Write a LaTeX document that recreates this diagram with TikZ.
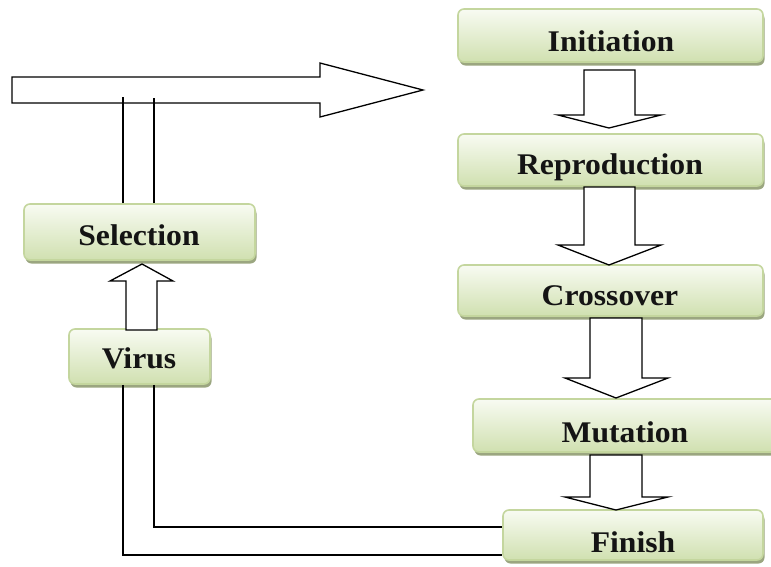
\documentclass[tikz,border=0pt]{standalone}
\usepackage{fontspec}
\setmainfont{Liberation Serif}[FakeStretch=1.055]
\usetikzlibrary{shadows,calc}
\definecolor{boxline}{RGB}{196,214,158}
\definecolor{boxtop}{RGB}{248,251,242}
\definecolor{boxbot}{RGB}{208,224,176}
\definecolor{boxshadow}{RGB}{155,166,128}
\tikzset{
  stagebox/.style={rectangle, rounded corners=6pt, draw=boxline, line width=1.6pt,
    top color=boxtop, bottom color=boxbot, inner sep=0pt,
    drop shadow={shadow xshift=1.5pt, shadow yshift=-3.5pt, fill=boxshadow, opacity=1}},
  stagetext/.style={anchor=base, inner sep=0pt, text=black!92, font=\fontsize{30}{30}\selectfont\bfseries},
  blockarrow/.style={draw=black, fill=white, line width=1.3pt, line join=miter},
  link/.style={draw=black, line width=1.3pt}
}
\begin{document}
\begin{tikzpicture}[x=1pt,y=-1pt]
\useasboundingbox (0,0) rectangle (771,566);
\clip (0,0) rectangle (771,566);
% boxes
\node[stagebox, minimum width=305pt, minimum height=53pt] (init) at (610.5,35.5) {};
\node[stagebox, minimum width=305pt, minimum height=52pt] (repro) at (610.5,160) {};
\node[stagebox, minimum width=305pt, minimum height=51pt] (cross) at (610.5,290.5) {};
\node[stagebox, minimum width=318pt, minimum height=53pt] (mut) at (632,425.5) {};
\node[stagebox, minimum width=260pt, minimum height=50pt] (fin) at (633,535) {};
\node[stagebox, minimum width=231pt, minimum height=56pt] (sel) at (139.5,232) {};
\node[stagebox, minimum width=141pt, minimum height=55pt] (vir) at (139.5,356.5) {};
% texts
\node[stagetext] (tinit) at (611,51.5) {Initiation};
\node[stagetext] (trepro) at (610,174) {Reproduction};
\node[stagetext] (tcross) at (610,305) {Crossover};
\node[stagetext] (tmut) at (625,442) {Mutation};
\node[stagetext] (tfin) at (633,552) {Finish};
\node[stagetext] (tsel) at (139,245) {Selection};
\node[stagetext] (tvir) at (139,368) {Virus};
% big arrow
\draw[blockarrow] (12,77) -- (320,77) -- (320,63) -- (423,90) -- (320,117) -- (320,103) -- (12,103) -- cycle;
% down block arrows
\draw[blockarrow] (584,70) -- (635,70) -- (635,115) -- (661,115) -- (609,128) -- (558,115) -- (584,115) -- cycle;
\draw[blockarrow] (584,187) -- (635,187) -- (635,245) -- (661,245) -- (609,265) -- (558,245) -- (584,245) -- cycle;
\draw[blockarrow] (590,318) -- (642,318) -- (642,378) -- (668,378) -- (616,398) -- (565,378) -- (590,378) -- cycle;
\draw[blockarrow] (590,455) -- (642,455) -- (642,497) -- (668,497) -- (616,510) -- (565,497) -- (590,497) -- cycle;
% up block arrow
\draw[blockarrow] (126,330) -- (157,330) -- (157,281) -- (173,281) -- (142,264) -- (110,281) -- (126,281) -- cycle;
% lines selection -> big arrow
\coordinate (ja) at (123,97);
\coordinate (jb) at (154,98);
\draw[link] ([xshift=-16.5pt]sel.north) -- (ja);
\draw[link] ([xshift=14.5pt]sel.north) -- (jb);
% lines virus -> finish
\draw[link] ([xshift=-16.5pt]vir.south) |- ([yshift=-20pt]fin.west);
\draw[link] ([xshift=14.5pt]vir.south) |- ([yshift=8pt]fin.west);
\end{tikzpicture}
\end{document}
